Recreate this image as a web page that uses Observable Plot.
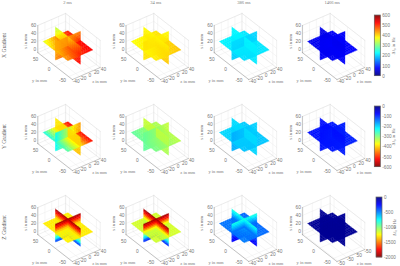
<!DOCTYPE html>
<html><head><meta charset="utf-8">
<script src="https://cdn.jsdelivr.net/npm/d3@7"></script>
<script src="https://cdn.jsdelivr.net/npm/@observablehq/plot@0.6"></script>
<style>html,body{margin:0;padding:0;background:#fff}svg{display:block}</style>
</head><body><div id="chart"></div>
<script>
const times = ["2 ms", "34 ms", "386 ms", "1466 ms"];
const rowNames = ["X Gradient", "Y Gradient", "Z Gradient"];
const xTicks = [0, 20, 40, 60];
const yTicks = [50, 0, -50];
const zTicks = [-40, -20, 0, 20, 40];
const zTicksLast = [-38, -12, 14, 40];
const zLabelsLast = ["-50", "-50", "50", "-50"];
const bar1Ticks = [0, 100, 200, 300, 400, 500, 600];
const bar2Ticks = [0, -100, -200, -300, -400, -500, -600];
const bar3Ticks = [0, -500, -1000, -1500, -2000];
const barMax = [600, -600, -2000];

// Field samples in Hz. Zx: rows x high to low, columns y + to -.
// Yx: rows x high to low, columns z - to +. Xx: rows y + to -, columns z - to +.
const xGradZ = [
  [[330,400,470],[375,445,510],[400,470,528]],
  [[375,385],[395,408]],
  [[222,218],[215,212]],
  [[62,68],[68,74]]];
const xGradY = [
  [[425,435,450],[425,440,500],[440,490,535]],
  [[392,376],[388,405]],
  [[205,200],[198,200]],
  [[70,72],[70,76]]];
const xGradX = [
  [[350,440,510],[410,470,525],[440,500,530]],
  [[372,390],[385,410]],
  [[222,210],[205,212]],
  [[66,70],[68,76]]];
const yGradZ = [
  [[-385,-395],[-395,-412]],
  [[-345,-335],[-330,-325]],
  [[-205,-205],[-202,-200]],
  [[-82,-86],[-84,-92]]];
const yGradY = [
  [[-225,-330,-440],[-225,-320,-425]],
  [[-285,-310,-345],[-280,-300,-330]],
  [[-178,-190,-200],[-178,-188,-198]],
  [[-84,-90,-92],[-86,-92,-95]]];
const yGradX = [
  [[-235,-400,-525],[-245,-390,-520],[-270,-380,-525]],
  [[-280,-330],[-295,-335]],
  [[-205,-195],[-190,-192]],
  [[-82,-90],[-88,-94]]];
const zDepthProfile = [
  [-1950,-1780,-1540,-1280,-1000,-700,-300],
  [-1960,-1780,-1520,-1170,-900,-600,-260],
  [-820,-700,-580,-450,-350,-270,-240],
  [-50,-45,-42,-40,-40,-40,-40]];
const zGradX = [
  [[-1285,-1280],[-1270,-1290]],
  [[-1165,-1160],[-1155,-1170]],
  [[-480,-460,-450],[-460,-560,-450],[-500,-470,-450]],
  [[-40,-40],[-40,-40]]];

const jetStops = [0, .125, .375, .625, .875, 1];
const jetColors = ["#000080", "#0000ff", "#00ffff", "#ffff00", "#ff0000", "#800000"];

// layout
const cx = [68.5, 156.7, 244.9, 333.1], cy = [46, 137, 228];
const box = {y: 64, z: 41, xLo: -8, xHi: 60};
const star = {y0: 2, yR: 46, z0: -1.5, zR: 36.75, x0: 27.5, xR: 22.5};
const proj = (c, r, y, z, x) => [
  cx[c] - .27 * y + .34 * z,
  cy[r] - .21 * y - .147 * z - .4 * (x - 26)];

const sample = (g, u, v) => {
  const R = (g.length - 1) * u, C = (g[0].length - 1) * v;
  const r0 = Math.min(Math.floor(R), g.length - 2), c0 = Math.min(Math.floor(C), g[0].length - 2);
  const a = R - r0, b = C - c0;
  return (1 - a) * ((1 - b) * g[r0][c0] + b * g[r0][c0 + 1]) + a * ((1 - b) * g[r0 + 1][c0] + b * g[r0 + 1][c0 + 1]);
};

const gridsFor = (r, c) => r === 0 ? [xGradZ[c], xGradY[c], xGradX[c]]
  : r === 1 ? [yGradZ[c], yGradY[c], yGradX[c]]
  : [zDepthProfile[c].map(v => [v, v]), zDepthProfile[c].map(v => [v, v]), zGradX[c]];

const N = 12;
const cells = [];
for (let r = 0; r < 3; ++r) for (let c = 0; c < 4; ++c) {
  const [gz, gy, gx] = gridsFor(r, c);
  const list = [];
  const {y0, yR, z0, zR, x0, xR} = star;
  const X = u => x0 + xR - 2 * xR * u, Yv = v => y0 + yR - 2 * yR * v, Zv = v => z0 - zR + 2 * zR * v;
  for (let i = 0; i < N; ++i) for (let j = 0; j < N; ++j) {
    const u0 = i / N, u1 = (i + 1) / N, v0 = j / N, v1 = (j + 1) / N, um = (u0 + u1) / 2, vm = (v0 + v1) / 2;
    const low = i >= N / 2, backY = j < N / 2;
    // back-to-front order across the three planes that split one another
    const orderZ = (low ? 0 : 10) + (backY ? 0 : 2);
    const orderY = (low ? 0 : 10) + 1;
    list.push({o: orderZ, v: sample(gz, um, vm), pts: [[Yv(v0), z0, X(u0)], [Yv(v1), z0, X(u0)], [Yv(v1), z0, X(u1)], [Yv(v0), z0, X(u1)]]});
    list.push({o: orderY, v: sample(gy, um, vm), pts: [[y0, Zv(v0), X(u0)], [y0, Zv(v1), X(u0)], [y0, Zv(v1), X(u1)], [y0, Zv(v0), X(u1)]]});
    list.push({o: 5, v: sample(gx, um, vm), pts: [[Yv(u0), Zv(v0), x0], [Yv(u0), Zv(v1), x0], [Yv(u1), Zv(v1), x0], [Yv(u1), Zv(v0), x0]]});
  }
  list.sort((a, b) => a.o - b.o);
  for (const q of list) {
    const id = cells.length;
    const t = q.v / barMax[r];
    for (const p of [...q.pts, q.pts[0]]) {
      const [px, py] = proj(c, r, ...p);
      cells.push({id: `${r}-${c}-${id}`, px, py, t});
    }
  }
}

const gridLines = [], axisLines = [], boxLines = [];
const seg = (arr, r, c, a, b) => {
  const id = arr.length;
  for (const p of [a, b]) { const [px, py] = proj(c, r, ...p); arr.push({id, px, py}); }
};
const tickTexts = [], titleTexts = [], sideTexts = [];
for (let r = 0; r < 3; ++r) for (let c = 0; c < 4; ++c) {
  const {y: Y, z: Z, xLo: L, xHi: H} = box;
  const last = r === 2 && c === 3;
  const zs = last ? zTicksLast : zTicks;
  for (const y of yTicks) {
    seg(gridLines, r, c, [y, -Z, L], [y, Z, L]);
    seg(gridLines, r, c, [y, Z, L], [y, Z, H]);
    const [px, py] = proj(c, r, y, -Z, L);
    tickTexts.push({px: px - 6, py: py + 3.5, s: String(y), a: "c"});
  }
  zs.forEach((z, i) => {
    seg(gridLines, r, c, [-Y, z, L], [Y, z, L]);
    seg(gridLines, r, c, [Y, z, L], [Y, z, H]);
    const [px, py] = proj(c, r, -Y, z, L);
    tickTexts.push({px: px + 3.5, py: py + 2, s: last ? zLabelsLast[i] : String(z), a: "c"});
  });
  for (const x of xTicks) {
    seg(gridLines, r, c, [Y, -Z, x], [Y, Z, x]);
    seg(gridLines, r, c, [Y, Z, x], [-Y, Z, x]);
    const [px, py] = proj(c, r, Y, -Z, x);
    tickTexts.push({px: px - 1.5, py, s: String(x), a: "e"});
  }
  seg(boxLines, r, c, [Y, -Z, H], [Y, Z, H]);
  seg(boxLines, r, c, [Y, Z, H], [-Y, Z, H]);
  seg(boxLines, r, c, [-Y, Z, H], [-Y, Z, L]);
  seg(boxLines, r, c, [Y, Z, L], [Y, Z, H]);
  seg(boxLines, r, c, [Y, Z, L], [-Y, Z, L]);
  seg(boxLines, r, c, [Y, Z, L], [Y, -Z, L]);
  seg(axisLines, r, c, [Y, -Z, L], [Y, -Z, H]);
  seg(axisLines, r, c, [Y, -Z, L], [-Y, -Z, L]);
  seg(axisLines, r, c, [-Y, -Z, L], [-Y, Z, L]);
  titleTexts.push({px: cx[c] - 29.5, py: cy[r] + 33.8, s: "y in mm", rot: 0});
  titleTexts.push({px: cx[c] + 30.5, py: cy[r] + 35.4, s: "z in mm", rot: 0});
  titleTexts.push({px: cx[c] - 43.5, py: cy[r] - 5, s: "x in mm", rot: -90});
}
times.forEach((s, c) => titleTexts.push({px: cx[c] - 1.5, py: 2.5, s, rot: 0}));
rowNames.forEach((s, r) => sideTexts.push({px: 3.5, py: cy[r] - 1, s}));

const bars = [
  {x: 374.3, w: 6, top: 15, bot: 75.7, ticks: bar1Ticks},
  {x: 374.3, w: 6, top: 106, bot: 166.7, ticks: bar2Ticks},
  {x: 376, w: 6, top: 197, bot: 257, ticks: bar3Ticks}];
const barCells = [], barFrames = [], barTexts = [], barLabels = [];
bars.forEach((b, r) => {
  const n = 120, h = (b.bot - b.top) / n;
  for (let i = 0; i < n; ++i) {
    const t = r === 0 ? 1 - (i + .5) / n : (i + .5) / n;
    barCells.push({x1: b.x, x2: b.x + b.w, y1: b.top + i * h, y2: b.top + (i + 1) * h + .3, t});
  }
  barFrames.push({x1: b.x, x2: b.x + b.w, y1: b.top, y2: b.bot});
  const m = barMax[r];
  for (const v of b.ticks) {
    const f = v / m;
    const py = r === 0 ? b.bot - f * (b.bot - b.top) : b.top + f * (b.bot - b.top);
    barTexts.push({px: b.x + b.w + 1.5, py, s: String(v)});
  }
  barLabels.push({px: b.x + b.w + 12.5, py: (b.top + b.bot) / 2, s: "Δf₀ in Hz"});
});

const pos = {x: "px", y: "py"};
const gray = "#777";
const chart = Plot.plot({
  width: 400, height: 266, margin: 0,
  style: {background: "#fff"},
  x: {domain: [0, 400], range: [0, 400], axis: null},
  y: {domain: [0, 266], range: [0, 266], axis: null},
  color: {type: "linear", domain: jetStops, range: jetColors, clamp: true},
  marks: [
    Plot.line(gridLines, {...pos, z: "id", stroke: "#e9e9e9", strokeWidth: .4}),
    Plot.line(boxLines, {...pos, z: "id", stroke: "#dcdcdc", strokeWidth: .4}),
    Plot.line(axisLines, {...pos, z: "id", stroke: "#808080", strokeWidth: .45}),
    Plot.line(cells, {...pos, z: "id", fill: "t", stroke: "t", strokeWidth: .3}),
    Plot.rect(barCells, {x1: "x1", x2: "x2", y1: "y1", y2: "y2", fill: "t"}),
    Plot.rect(barFrames, {x1: "x1", x2: "x2", y1: "y1", y2: "y2", fill: "none", stroke: "#666", strokeWidth: .7}),
    Plot.text(tickTexts.filter(d => d.a === "c"), {...pos, text: "s", fontSize: 4.8, fill: gray, fontFamily: "Liberation Sans"}),
    Plot.text(tickTexts.filter(d => d.a === "e"), {...pos, text: "s", fontSize: 4.8, fill: gray, textAnchor: "end", fontFamily: "Liberation Sans"}),
    Plot.text(barTexts, {...pos, text: "s", fontSize: 4.6, fill: gray, textAnchor: "start", fontFamily: "Liberation Sans"}),
    Plot.text(titleTexts.filter(d => d.rot === 0), {...pos, text: "s", fontSize: 4.5, fill: gray, fontFamily: "Liberation Serif"}),
    Plot.text(titleTexts.filter(d => d.rot !== 0), {...pos, text: "s", fontSize: 4.5, fill: gray, rotate: -90, fontFamily: "Liberation Serif"}),
    Plot.text(sideTexts, {...pos, text: "s", fontSize: 5.6, fill: "#555", rotate: -90, fontFamily: "Liberation Serif"}),
    Plot.text(barLabels, {...pos, text: "s", fontSize: 4.6, fill: gray, rotate: -90, fontFamily: "Liberation Serif"})
  ]
});
document.getElementById("chart").append(chart);
</script></body></html>
